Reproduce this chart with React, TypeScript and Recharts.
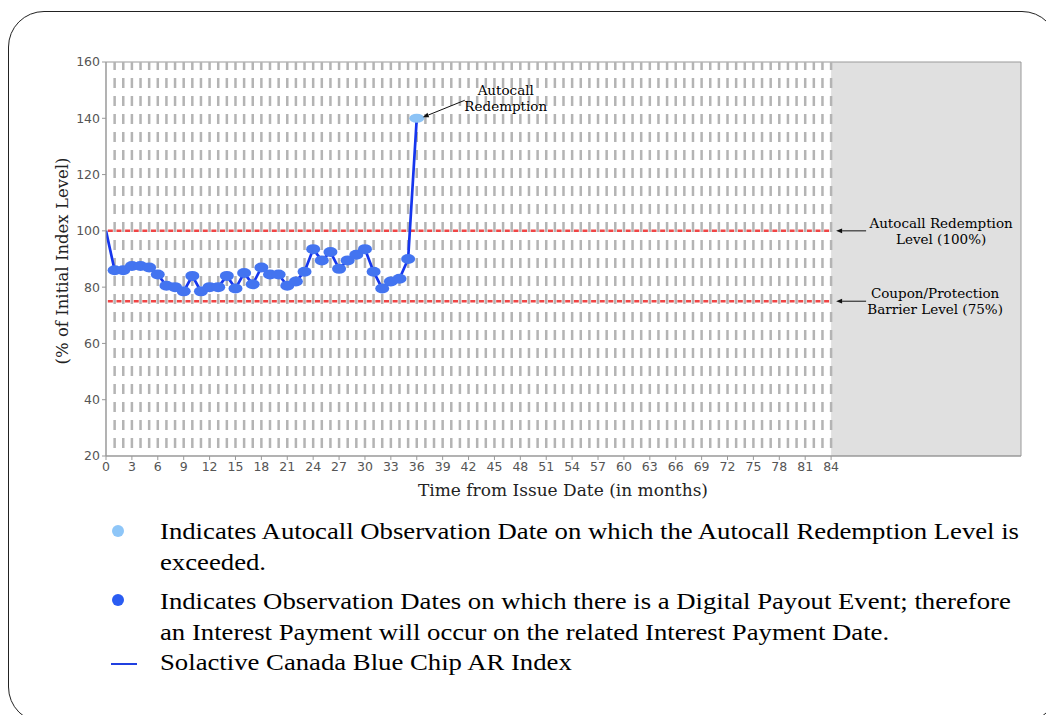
import React from "react";
import {
  ComposedChart,
  Line,
  Scatter,
  XAxis,
  YAxis,
  ReferenceLine,
  ReferenceArea,
  ReferenceDot,
} from "recharts";

// index level (% of initial) at each monthly observation, month = array index
const indexLevels = [
  100, 86, 86, 87.5, 87.5, 87, 84.5, 80.5, 80, 78.5, 84, 78.5, 80, 80, 84, 79.5,
  85, 81, 87, 84.5, 84.5, 80.5, 82, 85.5, 93.5, 89.5, 92.5, 86.5, 89.5, 91.5,
  93.5, 85.5, 79.5, 82, 83, 90, 140,
];
const autocallMonth = 36;
const autocallLevel = 100;
const barrierLevel = 75;
const termMonths = 84;
const axisEndMonth = 106;

const xTicks = [
  0, 3, 6, 9, 12, 15, 18, 21, 24, 27, 30, 33, 36, 39, 42, 45, 48, 51, 54, 57,
  60, 63, 66, 69, 72, 75, 78, 81, 84,
];
const yTicks = [20, 40, 60, 80, 100, 120, 140, 160];
const gridMonths = Array.from({ length: termMonths }, (_, i) => i + 1);

const series = indexLevels.map((level, month) => ({ month, level }));
const digitalPoints = series.filter((d) => d.month > 0 && d.month < autocallMonth);
const autocallPoints = series.filter((d) => d.month === autocallMonth);

const tickStyle = { fontSize: 12.5, fill: "#555", fontFamily: "DejaVu Sans" };
const noteFont = { fontSize: 13.5, fontFamily: "DejaVu Serif", fill: "#000" };

function Arrow({ x1, y1, x2, y2 }: { x1: number; y1: number; x2: number; y2: number }) {
  // arrowhead at (x2, y2)
  const dx = x2 - x1;
  const dy = y2 - y1;
  const len = Math.sqrt(dx * dx + dy * dy);
  const ux = dx / len;
  const uy = dy / len;
  const bx = x2 - ux * 6;
  const by = y2 - uy * 6;
  const nx = -uy * 2.4;
  const ny = ux * 2.4;
  return (
    <g>
      <line x1={x1} y1={y1} x2={bx} y2={by} stroke="#111" strokeWidth={1} />
      <polygon points={`${x2},${y2} ${bx + nx},${by + ny} ${bx - nx},${by - ny}`} fill="#111" />
    </g>
  );
}

const AutocallNote = (p: any) => (
  <g>
    <Arrow x1={p.cx + 48} y1={p.cy - 18} x2={p.cx + 6} y2={p.cy - 1} />
    <text x={p.cx + 89} y={p.cy - 23} textAnchor="middle" {...noteFont}>Autocall</text>
    <text x={p.cx + 89} y={p.cy - 7} textAnchor="middle" {...noteFont}>Redemption</text>
  </g>
);

const LevelNote = (lines: string[], dx: number) => (p: any) => (
  <g>
    <Arrow x1={p.cx + 35} y1={p.cy} x2={p.cx + 5} y2={p.cy} />
    <text x={p.cx + dx} y={p.cy - 3} textAnchor="middle" {...noteFont}>{lines[0]}</text>
    <text x={p.cx + dx} y={p.cy + 13} textAnchor="middle" {...noteFont}>{lines[1]}</text>
  </g>
);

const Blob = (p: any) => <ellipse cx={p.cx} cy={p.cy} rx={7} ry={5} fill="#4374f0" />;
const LightBlob = (p: any) => <ellipse cx={p.cx} cy={p.cy} rx={7.5} ry={4.5} fill="#8cc3f6" />;

const legendText: React.CSSProperties = {
  position: "absolute",
  left: 160,
  fontFamily: "Liberation Serif, Times New Roman, serif",
  fontSize: 24,
  lineHeight: "30.5px",
  color: "#000",
  whiteSpace: "nowrap",
  transform: "scaleX(1.113)",
  transformOrigin: "0 0",
};

export default function App() {
  return (
    <div
      style={{
        position: "absolute",
        left: 0,
        top: 0,
        width: 1046,
        height: 715,
        overflow: "hidden",
        background: "#fff",
      }}
    >
      <div
        style={{
          position: "absolute",
          left: 8,
          top: 11,
          width: 1050,
          height: 712,
          border: "1.5px solid #222",
          borderRadius: 36,
          boxSizing: "border-box",
        }}
      />
      <div style={{ position: "absolute", left: 0, top: 0 }}>
        <ComposedChart
          width={1046}
          height={500}
          data={series}
          margin={{ top: 62, right: 25, left: 46, bottom: 14 }}
        >
          <XAxis
            dataKey="month"
            type="number"
            domain={[0, axisEndMonth]}
            ticks={xTicks}
            interval={0}
            allowDataOverflow
            tick={tickStyle}
            tickSize={4}
            tickLine={{ stroke: "#999" }}
            axisLine={{ stroke: "#999" }}
            height={30}
            label={() => (
              <text
                x={563}
                y={496}
                textAnchor="middle"
                fontFamily="DejaVu Serif"
                fontSize={17}
                fill="#222"
              >
                Time from Issue Date (in months)
              </text>
            )}
          />
          <YAxis
            type="number"
            domain={[20, 160]}
            ticks={yTicks}
            interval={0}
            allowDataOverflow
            tick={tickStyle}
            tickSize={4}
            tickLine={{ stroke: "#999" }}
            axisLine={{ stroke: "#999" }}
            width={60}
            label={() => (
              <text
                x={62}
                y={261}
                textAnchor="middle"
                dominantBaseline="central"
                transform="rotate(-90 62 261)"
                fontFamily="DejaVu Serif"
                fontSize={16.5}
                fill="#222"
              >
                (% of Initial Index Level)
              </text>
            )}
          />
          <ReferenceArea
            x1={termMonths}
            x2={axisEndMonth}
            y1={20}
            y2={160}
            fill="#e0e0e0"
            fillOpacity={1}
            stroke="none"
          />
          <ReferenceArea
            x1={0}
            x2={axisEndMonth}
            y1={20}
            y2={160}
            fill="none"
            stroke="#999"
            strokeWidth={1}
          />
          {[autocallLevel, barrierLevel].map((lvl) => (
            <ReferenceLine
              key={"lvl" + lvl}
              segment={[
                { x: 0, y: lvl },
                { x: termMonths, y: lvl },
              ]}
              stroke="#f04545"
              strokeWidth={2.5}
              strokeDasharray="5 3.63"
              strokeDashoffset={6.8}
            />
          ))}
          {gridMonths.map((m) => (
            <ReferenceLine
              key={"g" + m}
              segment={[
                { x: m, y: 160 },
                { x: m, y: 20 },
              ]}
              stroke="#b4b4b4"
              strokeWidth={2.5}
              strokeDasharray="10 8"
              strokeDashoffset={2}
            />
          ))}
          <Scatter
            data={digitalPoints}
            dataKey="level"
            shape={Blob}
            isAnimationActive={false}
          />
          <Line
            dataKey="level"
            type="linear"
            stroke="#1636ee"
            strokeWidth={2.7}
            dot={false}
            activeDot={false}
            isAnimationActive={false}
          />
          <Scatter
            data={autocallPoints}
            dataKey="level"
            shape={LightBlob}
            isAnimationActive={false}
          />
          <ReferenceDot x={autocallMonth} y={140} r={0} shape={AutocallNote} />
          <ReferenceDot
            x={termMonths}
            y={autocallLevel}
            r={0}
            shape={LevelNote(["Autocall Redemption", "Level (100%)"], 110)}
          />
          <ReferenceDot
            x={termMonths}
            y={barrierLevel}
            r={0}
            shape={LevelNote(["Coupon/Protection", "Barrier Level (75%)"], 104)}
          />
        </ComposedChart>
      </div>

      <div style={{ position: "absolute", left: 112, top: 525, width: 12, height: 12, borderRadius: 6, background: "#8ec6f8" }} />
      <div style={{ ...legendText, top: 516 }}>
        Indicates Autocall Observation Date on which the Autocall Redemption Level is
        <br />
        exceeded.
      </div>
      <div style={{ position: "absolute", left: 112, top: 594, width: 12, height: 12, borderRadius: 6, background: "#2a5cf2" }} />
      <div style={{ ...legendText, top: 586 }}>
        Indicates Observation Dates on which there is a Digital Payout Event; therefore
        <br />
        an Interest Payment will occur on the related Interest Payment Date.
      </div>
      <div style={{ position: "absolute", left: 111, top: 663, width: 26, height: 2, background: "#2040e0" }} />
      <div style={{ ...legendText, top: 647 }}>Solactive Canada Blue Chip AR Index</div>
    </div>
  );
}
